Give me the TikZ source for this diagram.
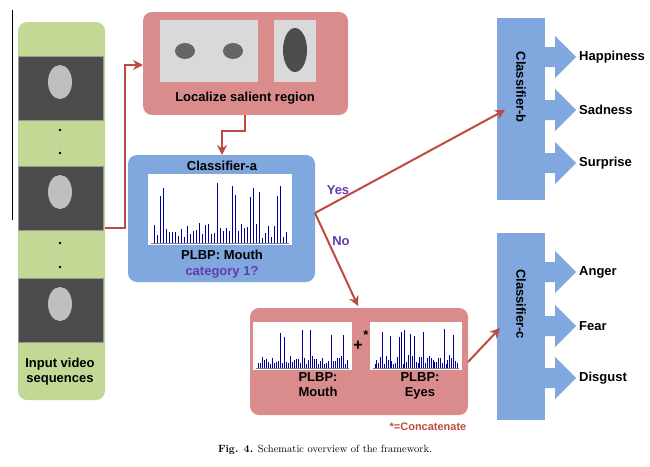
\documentclass[tikz,border=0pt]{standalone}
\usepackage{fontspec}
\newfontfamily\sffam{Liberation Sans}
\usetikzlibrary{arrows.meta}
\definecolor{boxgreen}{RGB}{196,216,150}
\definecolor{boxpink}{RGB}{218,140,140}
\definecolor{boxblue}{RGB}{128,168,222}
\definecolor{linkred}{RGB}{190,75,65}
\definecolor{askpurple}{RGB}{100,60,170}
\tikzset{
    box/.style={draw=none, rounded corners=9pt},
    lbl/.style={font=\sffam\bfseries\fontsize{13}{15}\selectfont, align=center, inner sep=1pt},
    link/.style={draw=linkred, line width=2pt, -{Stealth[length=10pt, width=10pt]}},
    photo/.style={fill=black!70, draw=black!40}
}
\newcommand{\histo}[4]{%
    \fill[white] (#1,#2) rectangle (#3,#4);
    \foreach \k in {1,...,45}{
        \pgfmathsetmacro{\bx}{#1+3+(#3-#1-6)*\k/46}
        \pgfmathsetmacro{\bh}{(#4-#2-4)*(0.08+0.22*rnd+0.6*(rnd>0.85))}
        \draw[blue!60!black, line width=0.6pt] (\bx,#4-2) -- (\bx,#4-2-\bh);
    }
    \draw[black!50, line width=0.3pt] (#1+3,#4-2) -- (#3-3,#4-2);
}
\begin{document}
\begin{tikzpicture}[x=1pt, y=-1pt]
    \pgfmathsetseed{7}
    \useasboundingbox (0,0) rectangle (650,466);

    \draw[black, line width=1pt] (12,10) -- (12,220);

    % input sequence
    \fill[boxgreen, box] (18,22) rectangle (105,400);
    \foreach \y in {56,166,278}{
        \fill[photo] (18,\y) rectangle (103,\y+64);
        \fill[black!25] (60,\y+26) ellipse (12 and 17);
    }
    \foreach \y in {130,153,243,267}{
        \fill (60,\y) circle (1.3);
    }
    \node[lbl] (input) at (60,372) {Input video\\sequences};
    \coordinate (seqout) at (105,228);

    % salient region
    \fill[boxpink, box] (143,12) rectangle (348,115);
    \fill[black!15] (160,20) rectangle (258,82);
    \fill[black!60] (185,51) ellipse (10 and 8);
    \fill[black!60] (233,51) ellipse (10 and 8);
    \fill[black!15] (274,20) rectangle (316,82);
    \fill[black!70] (295,50) ellipse (12 and 22);
    \node[lbl] (local) at (245,98) {Localize salient region};
    \coordinate (localin) at (143,65);
    \coordinate (localout) at (245,115);

    \draw[link] (seqout) -- (125,228) -- (125,65) -- (localin);

    % classifier a
    \fill[boxblue, box] (128,155) rectangle (315,282);
    \node[lbl] (clsa) at (222,166) {Classifier-a};
    \histo{148}{174}{292}{245}
    \node[lbl] (mouth) at (222,255) {PLBP: Mouth};
    \node[lbl, text=askpurple] (cat) at (222,272) {category 1?};
    \coordinate (clsain) at (222,155);
    \coordinate (split) at (315,213);

    \draw[link] (localout) -- (245,131) -- (222,131) -- (clsain);

    % concatenated features
    \fill[boxpink, box] (250,308) rectangle (468,415);
    \histo{253}{322}{352}{370}
    \histo{370}{322}{462}{370}
    \node[lbl, font=\sffam\bfseries\fontsize{16}{16}\selectfont] (plus) at (358,346) {+};
    \node[lbl] (star) at (366,335) {*};
    \node[lbl, text depth=0pt] (pmouth) at (318,385) {PLBP:\\Mouth};
    \node[lbl, text depth=0pt] (peyes) at (420,385) {PLBP:\\Eyes};
    \node[lbl, text=linkred, font=\sffam\bfseries\fontsize{11}{13}\selectfont] (concat) at (428,427) {*=Concatenate};
    \coordinate (catin) at (358,306);
    \coordinate (catout) at (468,362);

    % classifiers b and c
    \foreach \name/\top/\bot/\txt in {clsb/18/200/Classifier-b, clsc/233/420/Classifier-c}{
        \fill[boxblue] (497,\top) rectangle (545,\bot);
        \node[lbl, rotate=-90] (\name) at (521,{\top+(\bot-\top)*0.38}) {\txt};
    }
    \foreach \y/\txt in {57/Happiness, 110/Sadness, 163/Surprise, 272/Anger, 326/Fear, 378/Disgust}{
        \fill[boxblue] (544,\y-10) -- (555,\y-10) -- (555,\y-21) -- (576,\y) -- (555,\y+21) -- (555,\y+10) -- (544,\y+10) -- cycle;
        \node[lbl, anchor=west] at (578,\y) {\txt};
    }
    \coordinate (clsbin) at (505,110);
    \coordinate (clscin) at (500,328);

    \draw[link] (split) -- (clsbin);
    \draw[link] (split) -- (catin);
    \draw[link] (catout) -- (clscin);
    \node[lbl, text=askpurple] (yes) at (338,190) {Yes};
    \node[lbl, text=askpurple] (no) at (341,241) {No};

    \node (caption) at (325,450) {\fontsize{10.5}{12}\selectfont\textbf{Fig. 4.} Schematic overview of the framework.};
\end{tikzpicture}
\end{document}
